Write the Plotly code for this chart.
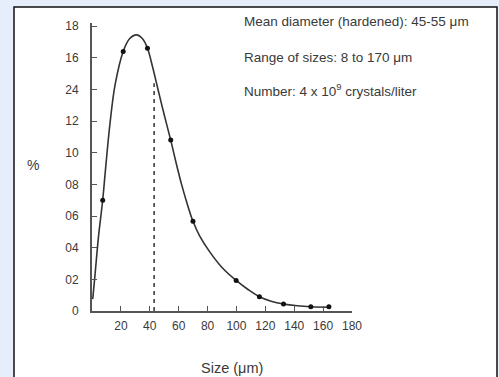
import plotly.graph_objects as go

# measured points
pts_x = [7.4, 21.6, 38.4, 54.5, 69.9, 99.8, 115.9, 132.6, 151.5, 164]
pts_y = [7.0, 16.4, 16.6, 10.8, 5.67, 1.93, 0.9, 0.44, 0.27, 0.27]

# fitted curve
curve_x = [0.5, 2, 4.5, 7.4, 9, 12.4, 16, 21.6, 26, 30.8, 35, 38.4, 42, 45.7, 50, 54.5,
           58, 62, 66, 69.9, 74.5, 81.4, 90, 99.8, 108, 115.9, 124, 132.6, 142, 151.5, 164]
curve_y = [0.75, 2.2, 4.7, 7.0, 8.6, 11.8, 14.3, 16.4, 17.2, 17.45, 17.2, 16.6, 15.4, 14.0,
           12.4, 10.8, 9.45, 8.0, 6.75, 5.67, 4.75, 3.75, 2.75, 1.93, 1.36, 0.9, 0.62, 0.44,
           0.33, 0.27, 0.24]

mean_x = [43, 43]
mean_y = [0, 14.4]

y_ticks = [0, 2, 4, 6, 8, 10, 12, 14, 16, 18]
y_labels = ["0", "02", "04", "06", "08", "10", "12", "24", "16", "18"]
x_ticks = [20, 40, 60, 80, 100, 120, 140, 160, 180]
x_labels = ["20", "40", "60", "80", "100", "120", "140", "160", "180"]

notes = ["Mean diameter (hardened): 45-55 \u03bcm",
         "Range of sizes: 8 to 170 \u03bcm",
         "Number: 4 x 10<sup>9</sup> crystals/liter"]

W, H = 499, 377
L, R, T, B = 92, 147, 23, 66
pw, ph = W - L - R, H - T - B

def px(x):
    return (x - L) / pw

def py(y):
    return (H - B - y) / ph

grey = "#3a3a3a"
fnt = "Liberation Sans, Arial, sans-serif"

fig = go.Figure()
fig.add_trace(go.Scatter(x=curve_x, y=curve_y, mode="lines",
                         line=dict(color="#333333", width=1.6, shape="spline", smoothing=1.0),
                         hoverinfo="skip", showlegend=False))
fig.add_trace(go.Scatter(x=mean_x, y=mean_y, mode="lines",
                         line=dict(color="#333333", width=1.5, dash="4px,4px"),
                         showlegend=False))
fig.add_trace(go.Scatter(x=pts_x, y=pts_y, mode="markers",
                         marker=dict(color="#111111", size=5), showlegend=False))

fig.update_xaxes(range=[0, 180], tickvals=x_ticks, ticktext=x_labels,
                 showgrid=False, zeroline=False, showline=True, linecolor="#555555", linewidth=2,
                 ticks="inside", ticklen=5, tickcolor="#555555", tickwidth=1,
                 tickfont=dict(family=fnt, size=12, color=grey), ticklabelstandoff=3)
fig.update_yaxes(range=[0, 18.2], tickvals=y_ticks, ticktext=y_labels,
                 showgrid=False, zeroline=False, showline=True, linecolor="#555555", linewidth=2,
                 ticks="inside", ticklen=5, tickcolor="#555555", tickwidth=1,
                 tickfont=dict(family=fnt, size=12, color=grey), ticklabelstandoff=9)

shapes = [dict(type="rect", xref="paper", yref="paper",
               x0=px(14), x1=px(497), y0=py(385), y1=py(7),
               fillcolor="white", line=dict(color="#111111", width=1.5), layer="below")]

anns = []
for t, yy in zip(notes, [22, 57, 90]):
    anns.append(dict(text=t, xref="paper", yref="paper", x=px(242), y=py(yy),
                     xanchor="left", yanchor="middle", showarrow=False,
                     font=dict(family=fnt, size=13.5, color=grey)))
anns.append(dict(text="%", xref="paper", yref="paper", x=px(33), y=py(165),
                 xanchor="center", yanchor="middle", showarrow=False,
                 font=dict(family=fnt, size=14, color=grey)))
anns.append(dict(text="Size (\u03bcm)", xref="paper", yref="paper", x=px(232), y=py(368),
                 xanchor="center", yanchor="middle", showarrow=False,
                 font=dict(family=fnt, size=14.5, color=grey)))

fig.update_layout(width=W, height=H, margin=dict(l=L, r=R, t=T, b=B),
                  paper_bgcolor="#e6eefb", plot_bgcolor="rgba(0,0,0,0)",
                  shapes=shapes, annotations=anns)

fig.write_html("out.html")
